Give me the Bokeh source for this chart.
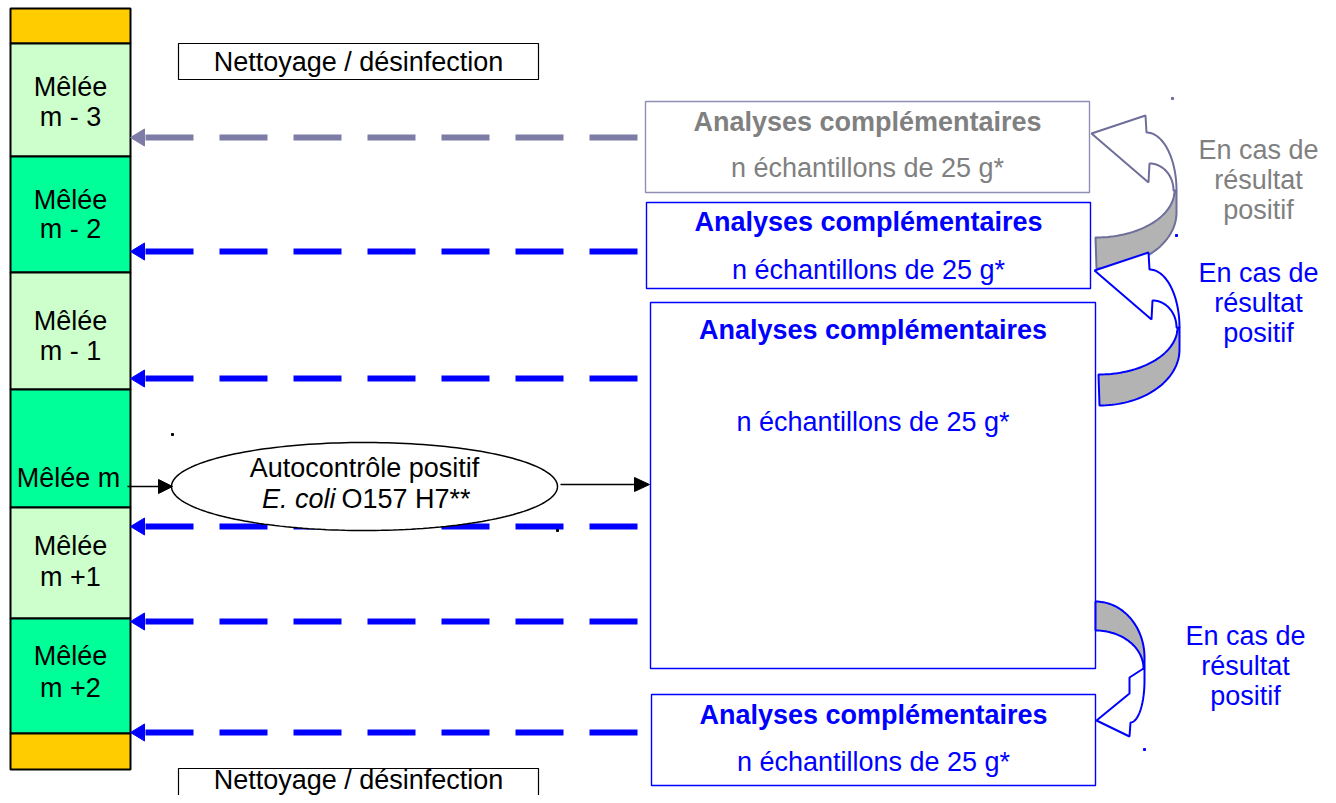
import numpy as np
from bokeh.plotting import figure
from bokeh.models import Range1d
from bokeh.embed import file_html
from bokeh.resources import INLINE
from bokeh.core.properties import value

FONT = value("Liberation Sans")
FS = "27px"

# ---------------- data ----------------
block_tops = [8, 43, 156, 272, 389, 507, 618, 733]
block_bottoms = [43, 156, 272, 389, 507, 618, 733, 769]
block_colors = ["#FFCC00", "#CCFFCC", "#00FF99", "#CCFFCC", "#00FF99", "#CCFFCC", "#00FF99", "#FFCC00"]
block_line1 = ["Mêlée", "Mêlée", "Mêlée", "Mêlée", "Mêlée"]
block_line2 = ["m - 3", "m - 2", "m - 1", "m +1", "m +2"]
block_line1_y = [86, 199, 320, 545, 655]
block_line2_y = [116, 228, 350, 576, 687]

arrow_rows = [137, 251, 378, 526, 621, 732]
arrow_colors = ["#7C7CA6", "#0000FF", "#0000FF", "#0000FF", "#0000FF", "#0000FF"]

box_left = [645, 646, 650, 651]
box_right = [1089, 1090, 1095, 1095]
box_top = [101, 202, 302, 694]
box_bottom = [192, 288, 668, 785]
box_line = ["#8F8FB5", "#0000FF", "#0000FF", "#0000FF"]
box_text_color = ["#808080", "#0000FF", "#0000FF", "#0000FF"]
box_title_y = [121, 221, 329, 714]
box_sub_y = [167, 269, 421, 761]
box_title = "Analyses complémentaires"
box_sub = "n échantillons de 25 g*"

note_lines = ["En cas de", "résultat", "positif"]
note_x = [1258, 1258, 1245]
note_y0 = [149, 272, 635]
note_colors = ["#808080", "#0000FF", "#0000FF"]

W, H = 1320, 795
p = figure(width=W, height=H, x_range=Range1d(0, W), y_range=Range1d(H, 0),
           output_backend="svg", toolbar_location=None, min_border=0)
p.axis.visible = False
p.grid.visible = False
p.outline_line_color = None

# ---- left column ----
p.quad(left=10, right=130, top=block_tops, bottom=block_bottoms, fill_color=block_colors,
       line_color="black", line_width=2)
xs = [70] * len(block_line1)
p.text(x=xs, y=block_line1_y, text=block_line1, text_font=FONT, text_font_size=FS,
       text_align="center", text_baseline="middle", text_color="black")
p.text(x=xs, y=block_line2_y, text=block_line2, text_font=FONT, text_font_size=FS,
       text_align="center", text_baseline="middle", text_color="black")
p.text(x=[68], y=[477], text=["Mêlée m"], text_font=FONT, text_font_size=FS,
       text_align="center", text_baseline="middle", text_color="black")

# ---- cleaning boxes ----
p.quad(left=178, right=538, top=[43, 768], bottom=[79, 820], fill_color="white",
       line_color="black", line_width=1.2)
p.text(x=[358, 358], y=[61, 779], text=["Nettoyage / désinfection"] * 2, text_font=FONT,
       text_font_size=FS, text_align="center", text_baseline="middle", text_color="black")

# ---- dashed arrows ----
for y, c in zip(arrow_rows, arrow_colors):
    p.segment(x0=637, y0=y, x1=143, y1=y, line_color=c, line_width=6, line_dash="48 26",
              line_cap="butt")
    p.patch(x=[130, 144, 144], y=[y, y - 8.5, y + 8.5], fill_color=c, line_color=c, line_width=1)

# ---- analysis boxes ----
p.quad(left=box_left, right=box_right, top=box_top, bottom=box_bottom, fill_color=None,
       line_color=box_line, line_width=1.4)
cx = [(a + b) / 2 for a, b in zip(box_left, box_right)]
p.text(x=cx, y=box_title_y, text=[box_title] * 4, text_font=FONT, text_font_size=FS,
       text_font_style="bold", text_align="center", text_baseline="middle",
       text_color=box_text_color)
p.text(x=cx, y=box_sub_y, text=[box_sub] * 4, text_font=FONT, text_font_size=FS,
       text_align="center", text_baseline="middle", text_color=box_text_color)

# ---- notes ----
for x0, y0, c in zip(note_x, note_y0, note_colors):
    p.text(x=[x0] * 3, y=[y0, y0 + 30, y0 + 60], text=note_lines, text_font=FONT,
           text_font_size=FS, text_align="center", text_baseline="middle", text_color=c)

# ---- ellipse + black arrows ----
t = np.linspace(0, 2 * np.pi, 200)
p.patch(x=364 + 193 * np.cos(t), y=486 + 44 * np.sin(t), fill_color="white",
        line_color="black", line_width=1.5)
p.text(x=[364], y=[467], text=["Autocontrôle positif"], text_font=FONT, text_font_size=FS,
       text_align="center", text_baseline="middle", text_color="black")
p.text(x=[335], y=[498], text=["E. coli"], text_font=FONT, text_font_size=FS,
       text_font_style="italic", text_align="right", text_baseline="middle", text_color="black")
p.text(x=[341], y=[498], text=["O157 H7**"], text_font=FONT, text_font_size=FS,
       text_align="left", text_baseline="middle", text_color="black")
p.segment(x0=[127, 560], y0=[486, 484], x1=[160, 635], y1=[486, 484], line_color="black",
          line_width=1.5)
p.patches(xs=[[172, 158, 158], [649, 634, 634]], ys=[[486, 479, 493], [484, 477, 491]],
          fill_color="black", line_color="black")

# ---- curved arrows ----
def arc(cx, cy, rx, ry, a0, a1, n=40):
    a = np.radians(np.linspace(a0, a1, n))
    return list(cx + rx * np.cos(a)), list(cy + ry * np.sin(a))


def curved_up(dx, dy, color):
    # grey underside of ribbon
    ux, uy = arc(1095 + dx, 190 + dy, 79, 47, 0, 90)
    lx, ly = arc(1096 + dx, 212 + dy, 80, 56, 90, 0)
    gx = ux + lx + [1176 + dx]
    gy = uy + ly + [190 + dy]
    p.patch(x=gx, y=gy, fill_color="#B3B3B3", line_color=color, line_width=2)
    # front with arrow head
    ox, oy = arc(1146 + dx, 190 + dy, 30, 58, -90, 0)
    ix, iy = arc(1149 + dx, 190 + dy, 24, 27, 0, -90)
    fx = [1091 + dx, 1145 + dx] + ox + ix + [1148 + dx]
    fy = [133 + dy, 115 + dy] + oy + iy + [182 + dy]
    p.patch(x=fx, y=fy, fill_color="white", line_color=color, line_width=2)


curved_up(0, 0, "#6E6E9A")
curved_up(3, 137, "#0000FF")

# bottom arrow (pointing down-left)
ox, oy = arc(1095, 657, 49, 56, -90, 0)
ix, iy = arc(1095, 668, 48, 38, 0, -90)
p.patch(x=ox + [1144] + ix, y=oy + [668] + iy, fill_color="#B3B3B3", line_color="#0000FF",
        line_width=2)
cx2, cy2 = arc(1130, 680, 14, 42, 90, 0)
p.patch(x=[1143, 1129, 1129, 1096, 1129, 1130] + cx2 + [1144],
        y=[668, 677, 693, 720, 736, 722] + cy2 + [668],
        fill_color="white", line_color="#0000FF", line_width=2)

# tiny stray dots
p.scatter(x=[172, 1172, 1176, 557, 1144], y=[434, 98, 235, 530, 749], size=2,
          color=["black", "#6E6E9A", "#0000FF", "black", "#0000FF"], marker="square")

open("out.html", "w").write(file_html(p, INLINE))
